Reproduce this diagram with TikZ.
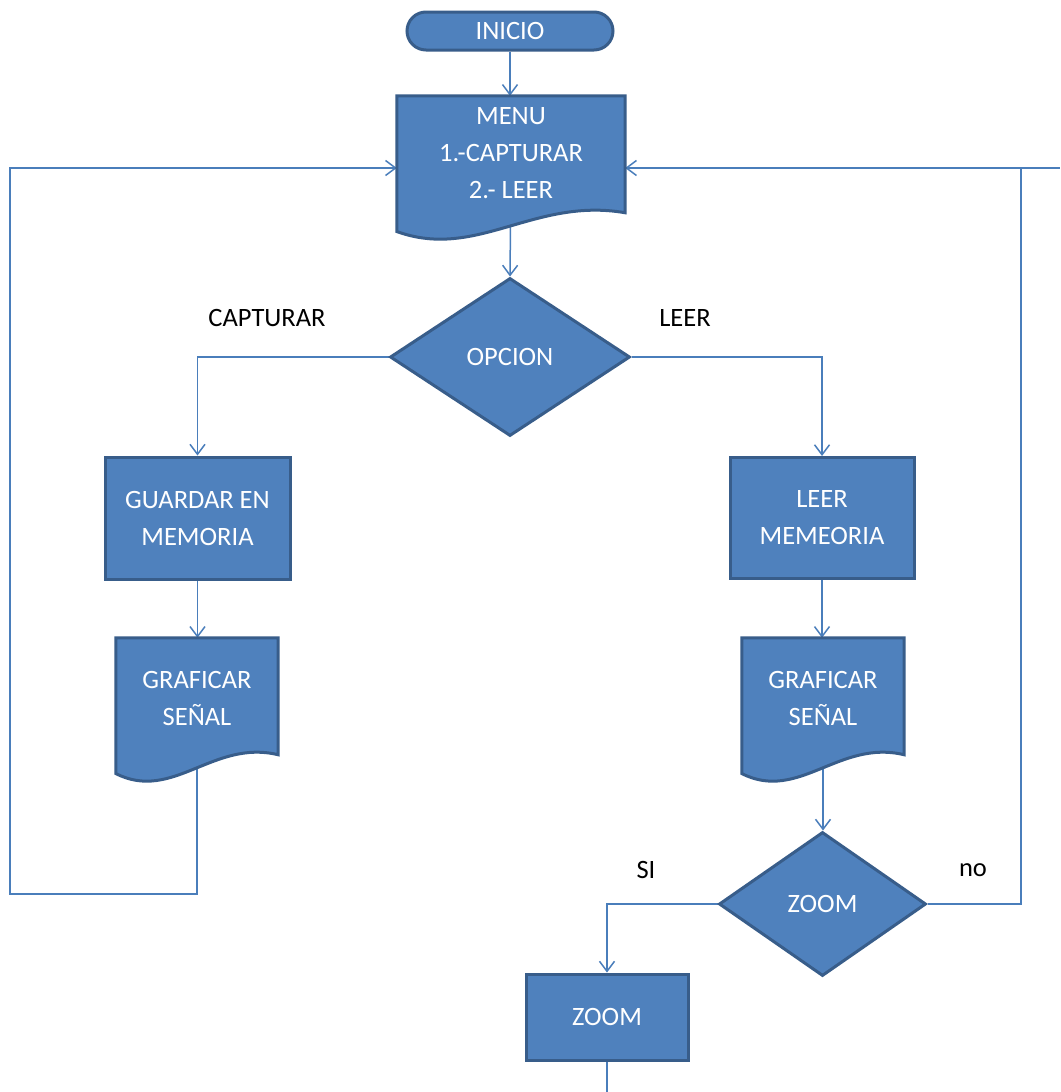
\documentclass[tikz,border=0pt]{standalone}
\usepackage{fontspec}
\setmainfont{Carlito}
\usetikzlibrary{shapes.geometric,arrows.meta,calc}
\pgfdeclarelayer{back}
\pgfdeclarelayer{bg}
\pgfsetlayers{back,bg,main}
\definecolor{boxfill}{HTML}{4F81BD}
\definecolor{boxedge}{HTML}{385D8A}
\definecolor{wire}{HTML}{4A7EBB}
\tikzset{
  shp/.style={fill=boxfill,draw=boxedge,line width=3pt,text=white,
    font=\fontsize{26.5}{37}\selectfont,align=center,inner sep=0pt},
  procbox/.style={shp,rectangle},
  decbox/.style={shp,diamond},
  termbox/.style={shp,rectangle,rounded corners=19pt},
  docframe/.style={rectangle,inner sep=0pt},
  doctext/.style={text=white,font=\fontsize{26.5}{37}\selectfont,align=center,inner sep=0pt},
  lbl/.style={text=black,font=\fontsize{26.5}{30}\selectfont,inner sep=0pt},
  wire/.style={draw=wire,line width=1.5pt,-{Straight Barb[length=10pt,width=15pt,line width=1.5pt]}},
  plainwire/.style={draw=wire,line width=1.5pt}
}
\newcommand\docpath[1]{%
  \path[shp] let \p1=(#1.north west), \p2=(#1.south east) in
    (\x1,\y1) -- (\x2,\y1) -- (\x2,{\y2+0.19*(\y1-\y2)})
    .. controls ({\x1+0.6*(\x2-\x1)},{\y2+0.30*(\y1-\y2)}) and ({\x1+0.35*(\x2-\x1)},{\y2-0.14*(\y1-\y2)}) ..
    (\x1,{\y2+0.06*(\y1-\y2)}) -- cycle;}
\begin{document}
\begin{tikzpicture}[x=1pt,y=-1pt]
\begin{pgfonlayer}{back}
\fill[white] (0,0) rectangle (1060,1092);
\end{pgfonlayer}
\useasboundingbox (0,0) rectangle (1060,1092);
% shapes
\node[termbox,minimum width=206pt,minimum height=38pt] (inicio) at (510,31) {INICIO};
\node[docframe,minimum width=228pt,minimum height=144pt] (menu) at (511,168) {};
\docpath{menu}
\node[doctext] (menutxt) at (511,153) {MENU\\1.-CAPTURAR\\2.- LEER};
\node[decbox,minimum width=240pt,minimum height=158pt] (opcion) at (510,357) {OPCION};
\node[procbox,minimum width=185pt,minimum height=122pt] (guardar) at (197.5,518) {GUARDAR EN\\MEMORIA};
\node[procbox,minimum width=184pt,minimum height=121pt] (leer) at (822,518) {LEER\\MEMEORIA};
\node[docframe,minimum width=162pt,minimum height=144pt] (graf1) at (197,710) {};
\docpath{graf1}
\node[doctext] (graf1txt) at (197,698) {GRAFICAR\\SEÑAL};
\node[docframe,minimum width=162pt,minimum height=144pt] (graf2) at (823,710) {};
\docpath{graf2}
\node[doctext] (graf2txt) at (823,698) {GRAFICAR\\SEÑAL};
\node[decbox,minimum width=207pt,minimum height=144pt] (zoomd) at (822.5,904) {ZOOM};
\node[procbox,minimum width=162pt,minimum height=86pt] (zoomr) at (607,1017) {ZOOM};
% labels
\node[lbl] (lcap) at (267,318) {CAPTURAR};
\node[lbl] (lleer) at (685,318) {LEER};
\node[lbl] (lsi) at (646,870) {SI};
\node[lbl] (lno) at (973,870) {no};
% coordinates
\coordinate (lb) at (10,894);
\coordinate (lt) at (10,168);
\coordinate (rb) at (1021,904);
\coordinate (rt) at (1021,168);
\coordinate (redge) at (1060,168);
\coordinate (bedge) at (607,1092);
% connectors
\begin{pgfonlayer}{bg}
\draw[wire] (inicio.south) -- (inicio.south |- menu.north);
\draw[wire] (menu.center) -- (opcion.north);
\draw[wire] (opcion.west) -| (guardar.north);
\draw[wire] (opcion.east) -| (leer.north);
\draw[wire] (guardar.south) -- (guardar.south |- graf1.north);
\draw[wire] (leer.south) -- (leer.south |- graf2.north);
\draw[wire] (graf2.center) -- (graf2.center |- zoomd.north);
\draw[wire] (zoomd.west) -| (zoomr.north);
\draw[plainwire] (zoomr.south) -- (bedge);
\draw[wire] (graf1.center) -- (graf1.center |- lb) -- (lb) -- (lt) -- (menu.west);
\draw[wire] (zoomd.east) -- (rb) -- (rt) -- (menu.east);
\draw[plainwire] (rt) -- (redge);
\end{pgfonlayer}
\end{tikzpicture}
\end{document}
